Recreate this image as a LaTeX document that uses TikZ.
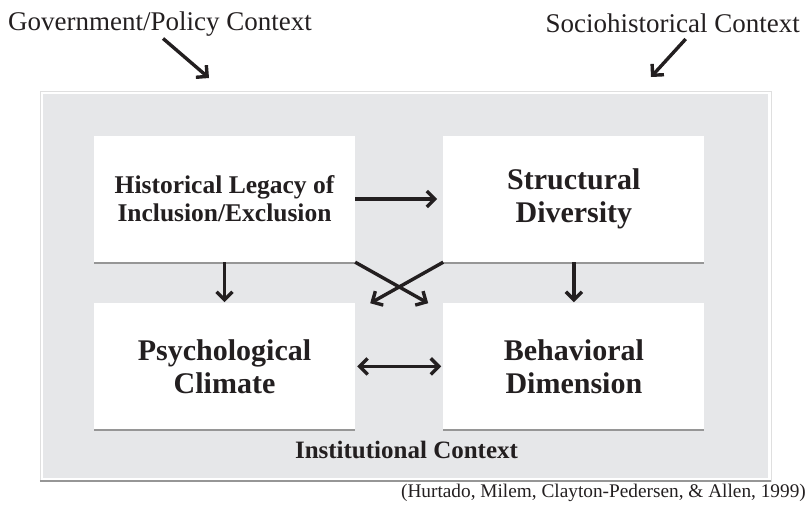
\documentclass[tikz,border=0pt]{standalone}
\usepackage{fontspec}
\setmainfont{Liberation Serif}
\usetikzlibrary{positioning, arrows.meta, shadows}
\tikzset{>={Straight Barb[length=8pt, width=16pt]}}
\definecolor{ctxgray}{RGB}{230,231,233}
\definecolor{ink}{RGB}{35,31,32}
\definecolor{shadowgray}{RGB}{150,150,150}
\def \boxwidth {261pt}
\def \boxheight {126pt}
\tikzset{
  box/.style = {fill = white, minimum width = \boxwidth, minimum height = \boxheight, inner sep = 0pt, align = center,
    font = \fontsize{30}{33}\selectfont\bfseries,
    drop shadow = {shadow xshift = 0pt, shadow yshift = -2pt, fill = shadowgray, opacity = 1}},
  link/.style = {line width = 3.4pt,
    preaction = {draw = shadowgray, transform canvas = {shift = {(0.8pt,-0.8pt)}}}}
}

\begin{document}
\begin{tikzpicture}[x = 1pt, y = -1pt, color = ink]
\useasboundingbox (0,0) rectangle (808,507);

\node (frame) [draw = gray!25, fill = white, minimum width = 731pt, minimum height = 390pt, inner sep = 0pt] at (405.5,286) {};
\node (inst) [fill = ctxgray, minimum width = 725pt, minimum height = 384pt, inner sep = 0pt] at (frame) {};
\draw[shadowgray, line width = 2pt] (frame.south west) -- (frame.south east);

\node (gov) [anchor = base west, inner sep = 0pt, font = \fontsize{27}{30}\selectfont] at (8,30.5) {Government/Policy Context};
\node (socio) [anchor = base east, inner sep = 0pt, font = \fontsize{27}{30}\selectfont] at (800,32) {Sociohistorical Context};
\coordinate (gov_tip) at (209,78);
\coordinate (socio_tip) at (651,77);
\draw[->, link] ([xshift = 3pt, yshift = -8pt]gov.base) -- (gov_tip);
\draw[->, link] ([xshift = 13pt, yshift = -7pt]socio.base) -- (socio_tip);

\node (hist) [box, font = \fontsize{25.5}{28}\selectfont\bfseries] at (224.5,199) {Historical Legacy of\\Inclusion/Exclusion};

\node (struct) [box, right = 88pt of hist] {Structural\\Diversity};

\draw[->, link, shorten > = 6pt] (hist) -- (struct);

\node (psych) [box, below = 41pt of hist] {Psychological\\Climate};

\node (behav) [box, right = 88pt of psych] {Behavioral\\Dimension};

\draw[->, link, shorten > = 1pt] (hist) -- (psych);
\draw[->, link, shorten > = 1pt] (struct) -- (behav);
\draw[<->, link, shorten > = 2pt, shorten < = 2pt] (psych) -- (behav);
\draw[->, link] (hist.south east) -- ([xshift = -15pt]behav.north west);
\draw[->, link] (struct.south west) -- ([xshift = 15pt]psych.north east);

\node (inst_label) [anchor = base, inner sep = 0pt, font = \fontsize{25}{28}\selectfont\bfseries] at (406.5,458) {Institutional Context};

\node (cite) [anchor = base east, inner sep = 0pt, font = \fontsize{19.3}{22}\selectfont] at (806,497) {(Hurtado, Milem, Clayton-Pedersen, \& Allen, 1999)};

\end{tikzpicture}
\end{document}
